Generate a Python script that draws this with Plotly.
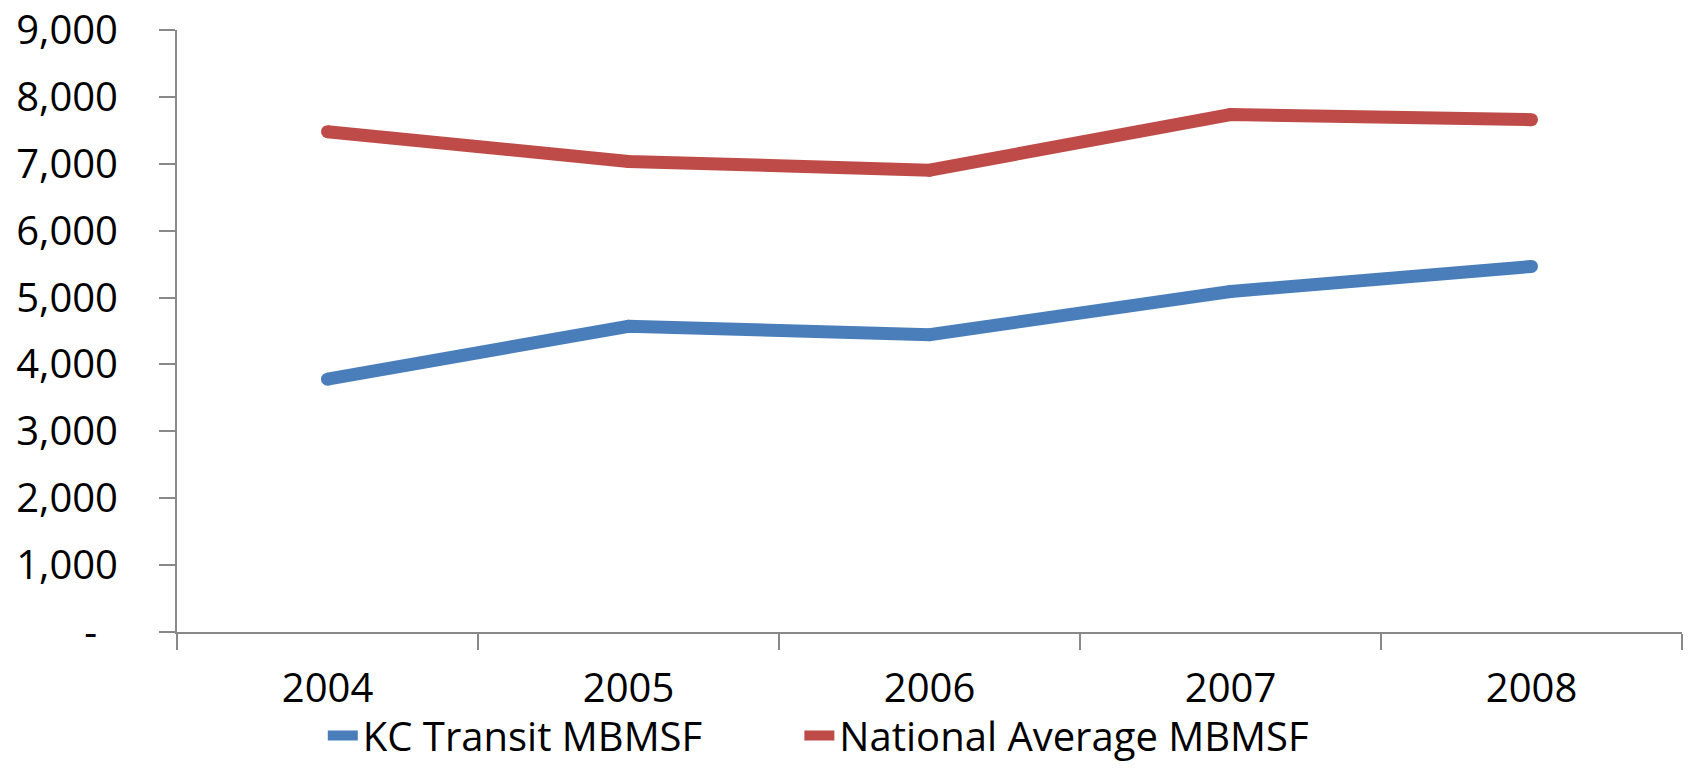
import plotly.graph_objects as go

# Annual values by year
years = ["2004", "2005", "2006", "2007", "2008"]
kc_transit = [3780, 4570, 4445, 5090, 5465]
national_avg = [7480, 7035, 6905, 7735, 7660]

y_tickvals = [0, 1000, 2000, 3000, 4000, 5000, 6000, 7000, 8000, 9000]
y_ticktext = ["-\u00a0\u00a0", "1,000", "2,000", "3,000", "4,000", "5,000",
              "6,000", "7,000", "8,000", "9,000"]

BLUE = "#4A7EBB"
RED = "#BE4B48"
AXIS = "#888888"
FONT = "Open Sans"
LW = 13

series = [
    ("KC Transit MBMSF", kc_transit, BLUE, "legend"),
    ("National Average MBMSF", national_avg, RED, "legend2"),
]

fig = go.Figure()
for name, vals, color, leg in series:
    fig.add_trace(go.Scatter(
        x=years, y=vals, name=name, mode="lines", legend=leg,
        line=dict(color=color, width=LW),
    ))
    # round caps / joins on the thick line
    fig.add_trace(go.Scatter(
        x=years, y=vals, mode="markers", showlegend=False, hoverinfo="skip",
        marker=dict(color=color, size=LW, line=dict(width=0)),
    ))

legend_style = dict(
    orientation="h", xref="container", yref="container",
    xanchor="left", y=0.0, yanchor="bottom",
    font=dict(family=FONT, size=40, color="#000000"),
    itemwidth=30, bgcolor="rgba(0,0,0,0)",
)

fig.update_layout(
    width=1690, height=768,
    margin=dict(l=177, r=8, t=30, b=136, autoexpand=False),
    paper_bgcolor="white", plot_bgcolor="white",
    font=dict(family=FONT, size=40, color="#000000"),
    showlegend=True,
    legend=dict(x=0.191, **legend_style),
    legend2=dict(x=0.473, **legend_style),
)

fig.update_xaxes(
    type="category", range=[-0.5, 4.5], automargin=False,
    showgrid=False, zeroline=False,
    showline=True, linecolor=AXIS, linewidth=2,
    ticks="outside", tickson="boundaries", ticklen=16,
    tickcolor=AXIS, tickwidth=2,
    ticklabelstandoff=20,
    tickfont=dict(family=FONT, size=40, color="#000000"),
)
fig.update_yaxes(
    range=[0, 9000], tickvals=y_tickvals, ticktext=y_ticktext, automargin=False,
    showgrid=False, zeroline=False,
    showline=True, linecolor=AXIS, linewidth=2,
    ticks="outside", ticklen=16, tickcolor=AXIS, tickwidth=2,
    ticklabelstandoff=33,
    tickfont=dict(family=FONT, size=40, color="#000000"),
)

fig.write_html("out.html")
